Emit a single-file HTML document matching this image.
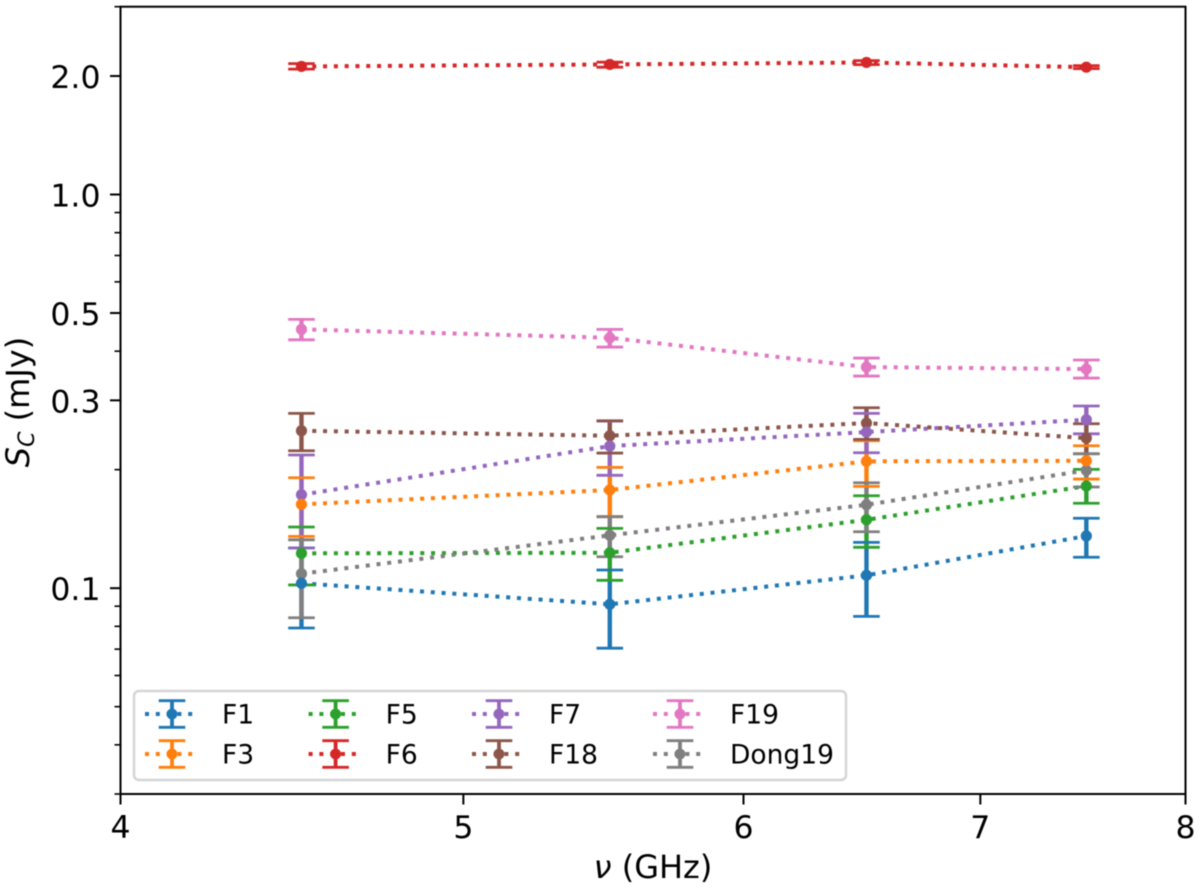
<!DOCTYPE html>
<html lang="en">
<head>
<meta charset="utf-8">
<title>Flux density vs frequency</title>
<style>
html,body{margin:0;padding:0;background:#fff;}
svg{display:block;filter:blur(0.4px);}
text{font-family:"DejaVu Sans","Liberation Sans",sans-serif;fill:#000;}
</style>
</head>
<body>
<svg id="chart" xmlns="http://www.w3.org/2000/svg" width="1200" height="889" viewBox="0 0 1200 889">
  <rect x="120.5" y="6.7" width="1065" height="787.3" fill="#fff"/>
  <g id="marks"></g>
  <g id="axes">
    <rect x="120.5" y="6.7" width="1065" height="787.3" fill="none" stroke="#000" stroke-width="2"/>
  </g>
  <text x="653" y="878" font-size="32" text-anchor="middle"><tspan font-style="italic">ν</tspan> (GHz)</text>
  <text transform="translate(29,402) rotate(-90)" font-size="32" text-anchor="middle"><tspan font-style="italic">S</tspan><tspan font-style="italic" font-size="22" dy="5">C</tspan><tspan dy="-5"> (mJy)</tspan></text>
  <g id="legend"></g>
</svg>
<script>
// ---- chart data ----
const frequencies = [4.5, 5.5, 6.5, 7.5];

const f1Values = [0.1029, 0.0910, 0.1078, 0.1357];
const f1Lower  = [0.0792, 0.0704, 0.0848, 0.1198];
const f1Upper  = [0.1266, 0.1112, 0.1307, 0.1505];

const f3Values = [0.1633, 0.1776, 0.2100, 0.2107];
const f3Lower  = [0.1354, 0.1519, 0.1814, 0.1893];
const f3Upper  = [0.1908, 0.2027, 0.2369, 0.2300];

const f5Values = [0.1226, 0.1230, 0.1492, 0.1817];
const f5Lower  = [0.1019, 0.1047, 0.1270, 0.1643];
const f5Upper  = [0.1430, 0.1419, 0.1717, 0.2003];

const f6Values = [2.115, 2.140, 2.165, 2.106];
const f6Lower  = [2.082, 2.106, 2.138, 2.088];
const f6Upper  = [2.150, 2.169, 2.188, 2.125];

const f7Values = [0.1727, 0.2296, 0.2492, 0.2678];
const f7Lower  = [0.1265, 0.1935, 0.2208, 0.2467];
const f7Upper  = [0.2179, 0.2657, 0.2780, 0.2902];

const f18Values = [0.2511, 0.2439, 0.2627, 0.2405];
const f18Lower  = [0.2234, 0.2204, 0.2388, 0.2195];
const f18Upper  = [0.2780, 0.2662, 0.2873, 0.2616];

const f19Values = [0.4544, 0.4326, 0.3645, 0.3602];
const f19Lower  = [0.4275, 0.4097, 0.3458, 0.3418];
const f19Upper  = [0.4817, 0.4544, 0.3842, 0.3798];

const dong19Values = [0.1088, 0.1362, 0.1629, 0.1992];
const dong19Lower  = [0.0841, 0.1202, 0.1391, 0.1807];
const dong19Upper  = [0.1327, 0.1519, 0.1853, 0.2195];

const seriesLabels = ['F1', 'F3', 'F5', 'F6', 'F7', 'F18', 'F19', 'Dong19'];
const xTickValues = [4, 5, 6, 7, 8];
const xTickLabels = ['4', '5', '6', '7', '8'];
const yTickValues = [0.1, 0.3, 0.5, 1.0, 2.0];
const yTickLabels = ['0.1', '0.3', '0.5', '1.0', '2.0'];
const yMinorTickValues = [0.03, 0.04, 0.05, 0.06, 0.07, 0.08, 0.09, 0.2, 0.4, 0.6, 0.7, 0.8, 0.9, 3];

// ---- series assembly and style ----
const seriesValues = [f1Values, f3Values, f5Values, f6Values, f7Values, f18Values, f19Values, dong19Values];
const seriesLower = [f1Lower, f3Lower, f5Lower, f6Lower, f7Lower, f18Lower, f19Lower, dong19Lower];
const seriesUpper = [f1Upper, f3Upper, f5Upper, f6Upper, f7Upper, f18Upper, f19Upper, dong19Upper];
const palette = ['#1f77b4', '#ff7f0e', '#2ca02c', '#d62728', '#9467bd', '#8c564b', '#e377c2', '#7f7f7f'];

// ---- axis functions ----
const plotLeft = 120.5, plotRight = 1185.5, plotTop = 6.7, plotBottom = 794;
const xMin = 4, xMax = 8, yMin = 0.03, yMax = 3;
function xScale(v) {
  return plotLeft + (plotRight - plotLeft) * Math.log(v / xMin) / Math.log(xMax / xMin);
}
function yScale(v) {
  return plotBottom - (plotBottom - plotTop) * Math.log(v / yMin) / Math.log(yMax / yMin);
}

const NS = 'http://www.w3.org/2000/svg';
function make(parent, tag, attrs) {
  const el = document.createElementNS(NS, tag);
  for (const k in attrs) el.setAttribute(k, attrs[k]);
  parent.appendChild(el);
  return el;
}
function slug(label) { return label.toLowerCase(); }

const marks = document.getElementById('marks');
const axes = document.getElementById('axes');
const legend = document.getElementById('legend');
const dotPattern = '4 6.8';
const capHalf = 13.3;

// error-bar stems, first layer
seriesLabels.forEach(function (label, s) {
  frequencies.forEach(function (f, i) {
    const stem = make(marks, 'line', {x1: xScale(f), x2: xScale(f), y1: yScale(seriesLower[s][i]), y2: yScale(seriesUpper[s][i]), stroke: palette[s], 'stroke-width': 4.4});
    
    
  });
});

// dotted connecting lines and caps
seriesLabels.forEach(function (label, s) {
  const pts = frequencies.map(function (f, i) { return xScale(f) + ',' + yScale(seriesValues[s][i]); }).join(' ');
  const line = make(marks, 'polyline', {points: pts, fill: 'none', stroke: palette[s], 'stroke-width': 4, 'stroke-dasharray': dotPattern});
  
  
  frequencies.forEach(function (f, i) {
    [seriesLower[s][i], seriesUpper[s][i]].forEach(function (v) {
      const cap = make(marks, 'line', {x1: xScale(f) - capHalf, x2: xScale(f) + capHalf, y1: yScale(v), y2: yScale(v), stroke: palette[s], 'stroke-width': 2.8});
      
      
    });
  });
});

// markers, earlier series on top
for (let s = seriesLabels.length - 1; s >= 0; s--) {
  frequencies.forEach(function (f, i) {
    const dot = make(marks, 'circle', {cx: xScale(f), cy: yScale(seriesValues[s][i]), r: 5.6, fill: palette[s]});
    
    
  });
}

// x ticks
xTickValues.forEach(function (v, i) {
  const t = make(axes, 'line', {x1: xScale(v), x2: xScale(v), y1: plotBottom, y2: plotBottom + 10.5, stroke: '#000', 'stroke-width': 2});
  
  
  const lab = make(axes, 'text', {x: xScale(v), y: 838, 'font-size': 31.5, 'text-anchor': 'middle'});
  lab.textContent = xTickLabels[i];
  
  
});

// y ticks
yTickValues.forEach(function (v, i) {
  const t = make(axes, 'line', {x1: plotLeft - 10.5, x2: plotLeft, y1: yScale(v), y2: yScale(v), stroke: '#000', 'stroke-width': 2});
  
  
  const lab = make(axes, 'text', {x: 100.5, y: yScale(v) + 12, 'font-size': 31.5, 'text-anchor': 'end'});
  lab.textContent = yTickLabels[i];
  
  
});
yMinorTickValues.forEach(function (v) {
  const t = make(axes, 'line', {x1: plotLeft - 6, x2: plotLeft, y1: yScale(v), y2: yScale(v), stroke: '#000', 'stroke-width': 1.6});
  
  
});

// legend
const legendColumns = 4, legendRows = 2;
const legendColCenter = [172, 335.6, 499, 680];
const legendRowCenter = [714, 754];
const legendTextOffset = 50;
const legendFrame = make(legend, 'rect', {x: 134, y: 691, width: 712, height: 89, rx: 5, ry: 5, fill: '#fff', 'fill-opacity': 0.85, stroke: '#d4d4d4', 'stroke-width': 2.4});


seriesLabels.forEach(function (label, s) {
  const col = Math.floor(s / legendRows);
  const row = s % legendRows;
  const cx = legendColCenter[col], cy = legendRowCenter[row];
  const g = make(legend, 'g', {});
  
  
  const dash = make(g, 'line', {x1: cx - 27, x2: cx + 27, y1: cy, y2: cy, stroke: palette[s], 'stroke-width': 4, 'stroke-dasharray': dotPattern});
  
  
  const stem = make(g, 'line', {x1: cx, x2: cx, y1: cy - 13.3, y2: cy + 13.3, stroke: palette[s], 'stroke-width': 3.8});
  
  
  [-13.3, 13.3].forEach(function (d) {
    const cap = make(g, 'line', {x1: cx - capHalf, x2: cx + capHalf, y1: cy + d, y2: cy + d, stroke: palette[s], 'stroke-width': 2.8});
    
    
  });
  const dot = make(g, 'circle', {cx: cx, cy: cy, r: 5.4, fill: palette[s]});
  
  
  const txt = make(g, 'text', {x: cx + legendTextOffset, y: cy + 9.5, 'font-size': 26.5});
  txt.textContent = label;
  
  
});
</script>
</body>
</html>
